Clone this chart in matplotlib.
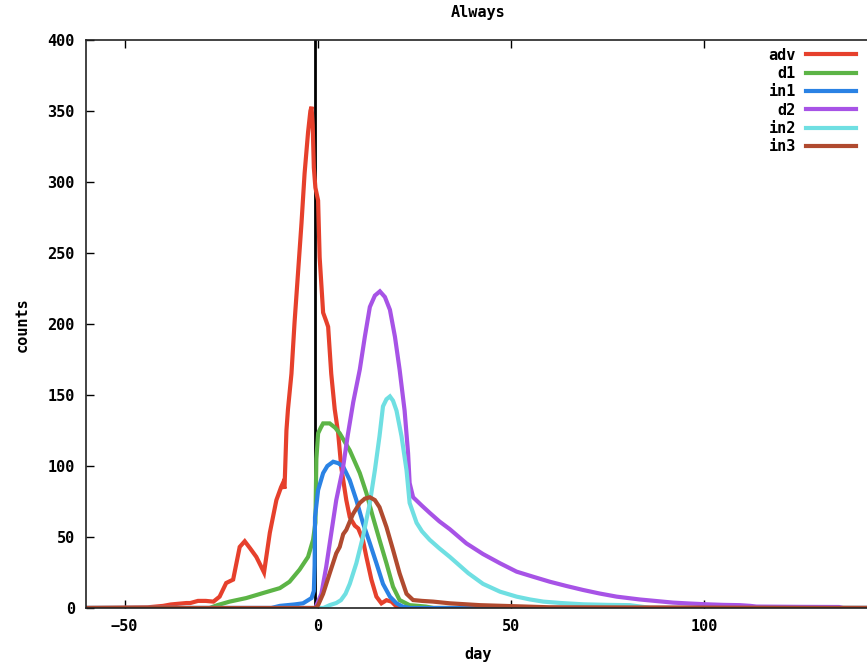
import numpy as np
import matplotlib
matplotlib.use("Agg")
import matplotlib.pyplot as plt

# values (day, counts)
adv_day = [-60, -44, -42, -40, -38, -36, -34, -33, -31, -29, -27, -25.4, -23.7, -21.9,
           -20.2, -18.9, -17.5, -15.9, -14.8, -13.9, -12.4, -10.7, -9.5, -9, -8.6, -8.1,
           -7.7, -6.8, -6, -5.1, -4.2, -3.4, -2.5, -1.9, -1.6, -1.3, -1.0, -0.6, 0.1, 0.5,
           1.4, 2.2, 2.7, 3.5, 4.4, 5.3, 6.1, 7.4, 8.3, 9.6, 10.5, 11.7, 12.6, 13.9, 15.2,
           16.5, 17.8, 19.1, 20.4, 22, 150]
adv_cnt = [0, 0.5, 1, 1.5, 2.5, 3, 3.5, 3.5, 5, 5, 4.5, 8, 17.6, 20,
           43, 47, 42, 36, 30, 25, 53, 76, 85, 88, 84, 125,
           140, 165, 201, 236, 271, 306, 335, 350, 353, 340, 310, 296, 287, 247,
           208, 202, 198, 165, 140, 123, 99, 76, 64, 58, 56, 48, 36, 20, 8,
           3.3, 5.5, 4.5, 1, 0, 0]

d1_day = [-60, -28, -26, -22.8, -18.5, -14.2, -9.8, -7.3, -4.7, -2.5, -1.2, -0.6, -0.35,
          0.1, 0.8, 1.4, 3.1, 4.5, 5.7, 8.3, 10.9, 12.6, 14.3, 16, 17.8, 19.5, 21.2,
          23.8, 26, 28, 30, 150]
d1_cnt = [0, 0, 2, 4.5, 7, 10.5, 14, 18.5, 27, 36, 48, 60, 105,
          123, 127, 130, 130, 127, 123, 111, 95, 81, 64, 48, 31.5, 15, 5.6,
          2, 1.5, 1, 0, 0]

in1_day = [-60, -12, -9.8, -6, -3.8, -1.6, -1.0, -0.8, -0.7, 0.1, 1.4, 2.5, 4, 5.3, 6.6,
           8.3, 10, 11.7, 13.5, 15.2, 16.9, 18.7, 20.4, 22, 24, 150]
in1_cnt = [0, 0, 1.5, 2.5, 3.3, 7, 12, 30, 64, 83, 95, 100, 103, 102, 99.5,
           90, 76, 60, 45.6, 31.5, 17, 8, 3.3, 1, 0, 0]

d2_day = [-60, -0.5, -0.3, 0.95, 2.2, 3.5, 4.8, 6.5, 7.8, 9.2, 10.9, 12.2, 13.5, 14.8,
          16.1, 17.4, 18.7, 20, 21.2, 22.5, 23.4, 23.8, 24.7, 27, 29, 31.5, 34.2, 38.5,
          42.8, 47.2, 51.5, 55.8, 60.1, 64.4, 68.7, 73, 77.4, 83.4, 87.7, 92, 96, 100.7,
          105, 109.3, 112, 113.6, 125, 135, 136, 150]
d2_cnt = [0, 0, 2, 10, 29, 52.6, 76, 98, 122, 145, 168, 191, 212, 220,
          223, 219, 210, 191, 168, 139, 109, 88, 78, 72, 67, 61, 55.5, 45.5,
          38, 31.5, 25.6, 22, 18.5, 15.5, 12.7, 10.2, 8, 6, 4.9, 3.8, 3.2, 2.6,
          2.2, 2, 1.5, 1, 0.8, 0.7, 0, 0]

in2_day = [-60, 1.5, 3.1, 4.8, 6.0, 7.2, 8.3, 10, 11.7, 13.5, 14.8, 16, 16.9, 17.8, 18.7,
           19.5, 20.4, 21.7, 23, 23.8, 25.6, 27, 29, 31.5, 34.2, 39, 42.8, 47.2, 51.5, 55,
           58.4, 63, 68.7, 75, 80.8, 85, 86, 150]
in2_cnt = [0, 0, 2, 3.5, 5.5, 10, 17, 31.5, 50, 74, 97, 121, 142, 147, 149,
           146, 139, 121, 97, 74, 60, 54, 48, 42, 36, 24.5, 17, 11.5, 8, 6,
           4.5, 3.5, 2.6, 2.2, 2, 0.5, 0, 0]

in3_day = [-60, -0.5, 0.1, 1.4, 3.1, 4.8, 5.7, 6.6, 7.4, 9.1, 10.9, 12.2, 13.5, 14.8, 16,
           17.8, 19.5, 21.2, 23, 24.7, 27, 29.9, 34.2, 42, 54, 60, 150]
in3_cnt = [0, 0, 2, 10, 24.4, 38.5, 43, 52, 55, 66, 74, 77, 78, 76, 71,
           57, 41, 24.4, 10, 5.6, 5, 4.5, 3.3, 2, 1, 0.5, 0]

labels = ["adv", "d1", "in1", "d2", "in2", "in3"]
colors = ["#e6402c", "#5cb446", "#2a82e4", "#a753e6", "#6fdfe2", "#b04a2f"]
series = [(adv_day, adv_cnt), (d1_day, d1_cnt), (in1_day, in1_cnt),
          (d2_day, d2_cnt), (in2_day, in2_cnt), (in3_day, in3_cnt)]
marker_day = -0.8

FS = 11
font = {"family": "DejaVu Sans Mono", "weight": "bold", "size": FS}
plt.rcParams["font.family"] = "DejaVu Sans Mono"
plt.rcParams["font.weight"] = "bold"

W, H = 867, 672
fig = plt.figure(figsize=(W / 100, H / 100), dpi=100)
ax = fig.add_axes([86 / W, 64 / H, 811 / W, 568 / H])

ax.plot([marker_day, marker_day], [0, 400], color="black", lw=2, zorder=1)
for (x, y), lab, c in zip(series, labels, colors):
    ax.plot(x, y, color=c, lw=3, label=lab, zorder=2, solid_joinstyle="miter")

ax.set_xlim(-60, 150)
ax.set_ylim(0, 400)
ax.set_xticks([-50, 0, 50, 100])
ax.set_yticks(np.arange(0, 401, 50))
ax.tick_params(direction="in", length=6, width=1, top=True, right=True,
               labelsize=FS, pad=8)
for lab in ax.get_xticklabels() + ax.get_yticklabels():
    lab.set_fontweight("bold")
for s in ax.spines.values():
    s.set_linewidth(1.2)
    s.set_color("#222222")

fig.text(478 / W, 1 - 13 / H, "Always", ha="center", va="center", **font)
fig.text(478 / W, 1 - 655 / H, "day", ha="center", va="center", **font)
fig.text(22 / W, 1 - 325 / H, "counts", ha="center", va="center", rotation=90, **font)

leg = ax.legend(loc="upper right", bbox_to_anchor=(864 / W, 1 - 40 / H),
                bbox_transform=fig.transFigure, frameon=False, markerfirst=False,
                handlelength=3.3, handletextpad=0.65, labelspacing=0.22,
                borderpad=0, prop={"family": "DejaVu Sans Mono", "weight": "bold", "size": FS})

fig.savefig("out.png", dpi=100)
